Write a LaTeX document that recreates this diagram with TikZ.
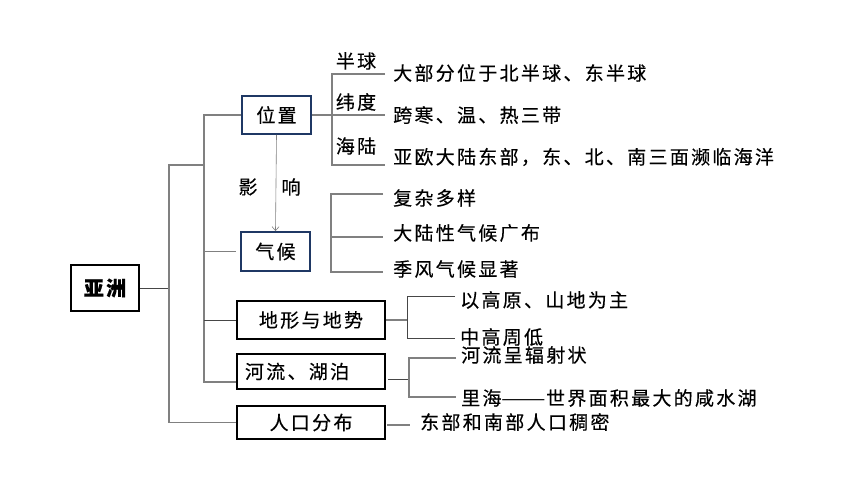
\documentclass[tikz,border=0pt]{standalone}
\usepackage{fontspec}
\setmainfont{Noto Sans CJK SC}[LetterSpace=12, FakeBold=0.35]
\newfontfamily\nols{Noto Sans CJK SC}
\usetikzlibrary{arrows.meta}
\definecolor{navy}{RGB}{31,56,100}
\definecolor{lgray}{RGB}{128,128,128}
\definecolor{dgray}{RGB}{70,70,70}
\begin{document}
\begin{tikzpicture}[x=1pt,y=-1pt,
  every node/.style={font=\fontsize{19}{21}\selectfont, inner sep=0pt},
  conn/.style={draw=lgray, line width=1.1pt},
  dconn/.style={draw=dgray, line width=1pt},
  navybox/.style={draw=navy, line width=1.8pt, fill=white},
  blkbox/.style={draw=black, line width=1.5pt, fill=white},
  item/.style={anchor=west},
  lbl/.style={anchor=center}]
\useasboundingbox (0,0) rectangle (860,484);

% main boxes
\node[blkbox, minimum width=68pt, minimum height=46pt, font=\bfseries\fontsize{20}{22}\selectfont] (asia) at (105,288) {亚洲};
\node[navybox, minimum width=69pt, minimum height=38pt] (wz) at (276.5,115) {位置};
\node[navybox, minimum width=69pt, minimum height=39pt] (qh) at (275.5,251.5) {气候};
\node[blkbox, minimum width=148pt, minimum height=38pt] (dx) at (311,320) {地形与地势};
\node[blkbox, minimum width=148pt, minimum height=35pt, text width=132pt, align=left] (hl) at (311,371.5) {河流、湖泊};
\node[blkbox, minimum width=148pt, minimum height=33pt] (rk) at (311,422.5) {人口分布};

% trunk
\coordinate (v1top) at (169,165);
\coordinate (v1bot) at (169,422.5);
\coordinate (v2top) at (204,115);
\coordinate (v2bot) at (204,382);
\draw[dconn] (asia.east) -- (asia.east -| v1top);
\draw[conn] (v1top -| v2top) -- (v1top) -- (v1bot) -- (rk.west);
\draw[conn] (wz.west) -- (v2top) -- (v2bot) -- (v2bot -| hl.west);
\draw[conn] (v2top |- qh) -- ([xshift=-4pt]qh.west);
\draw[dconn] (v2top |- dx) -- (dx.west);

% influence arrow
\draw[draw=lgray, line width=0.6pt, -{Straight Barb[length=4pt,width=7pt]}] (wz.south) -- (qh.north);
\node (ying) at (248,187) {影};
\node (xiang) at (291,187) {响};

% position bracket
\coordinate (p1) at (332,74);
\coordinate (p1e) at (385,74);
\coordinate (p2e) at (385,115);
\coordinate (p3) at (332,165);
\coordinate (p3e) at (385,165);
\draw[conn] (wz.east) -- (p2e);
\draw[conn] (p1e) -- (p1) -- (p3) -- (p3e);
\node[lbl] (l1) at (356,61) {半球};
\node[lbl] (l2) at (356,102) {纬度};
\node[lbl] (l3) at (356,146) {海陆};
\node[item] (t1) at (393,73) {大部分位于北半球、东半球};
\node[item] (t2) at (393,115) {跨寒、温、热三带};
\node[item] (t3) at (393,157) {亚欧大陆东部，东、北、南三面濒临海洋};

% climate bracket
\coordinate (c1) at (331,194);
\coordinate (c1e) at (383,194);
\coordinate (c2) at (331,237);
\coordinate (c2e) at (383,237);
\coordinate (c3) at (331,272);
\coordinate (c3e) at (383,272);
\draw[conn] (c1e) -- (c1) -- (c3) -- (c3e);
\draw[conn] (c2) -- (c2e);
\node[item] (k1) at (393,198) {复杂多样};
\node[item] (k2) at (393,233) {大陆性气候广布};
\node[item] (k3) at (393,269) {季风气候显著};

% terrain bracket
\coordinate (d0) at (407,320);
\coordinate (d1) at (407,296);
\coordinate (d1e) at (455,296);
\coordinate (d2) at (407,338);
\coordinate (d2e) at (455,338);
\draw[conn] (dx.east) -- (d0);
\draw[dconn] (d1e) -- (d1) -- (d2) -- (d2e);
\node[item] (g1) at (460,300) {以高原、山地为主};
\node[item] (g2) at (460,337) {中高周低};

% river bracket
\coordinate (h0s) at (388,379);
\coordinate (h0) at (409,379);
\coordinate (h1) at (409,358);
\coordinate (h1e) at (456,358);
\coordinate (h2) at (409,397);
\coordinate (h2e) at (456,397);
\draw[dconn] (h0s) -- (h0);
\draw[conn] (h1e) -- (h1) -- (h2) -- (h2e);
\node[item] (r1) at (461,355) {河流呈辐射状};
\node[item] (r2) at (461,398) {里海{\nols\scalebox{1.4}[1]{——}}世界面积最大的咸水湖};

% population
\coordinate (q0s) at (387,425);
\coordinate (q0) at (410,425);
\draw[conn] (q0s) -- (q0);
\node[item] (pp) at (420,422) {东部和南部人口稠密};
\end{tikzpicture}
\end{document}
